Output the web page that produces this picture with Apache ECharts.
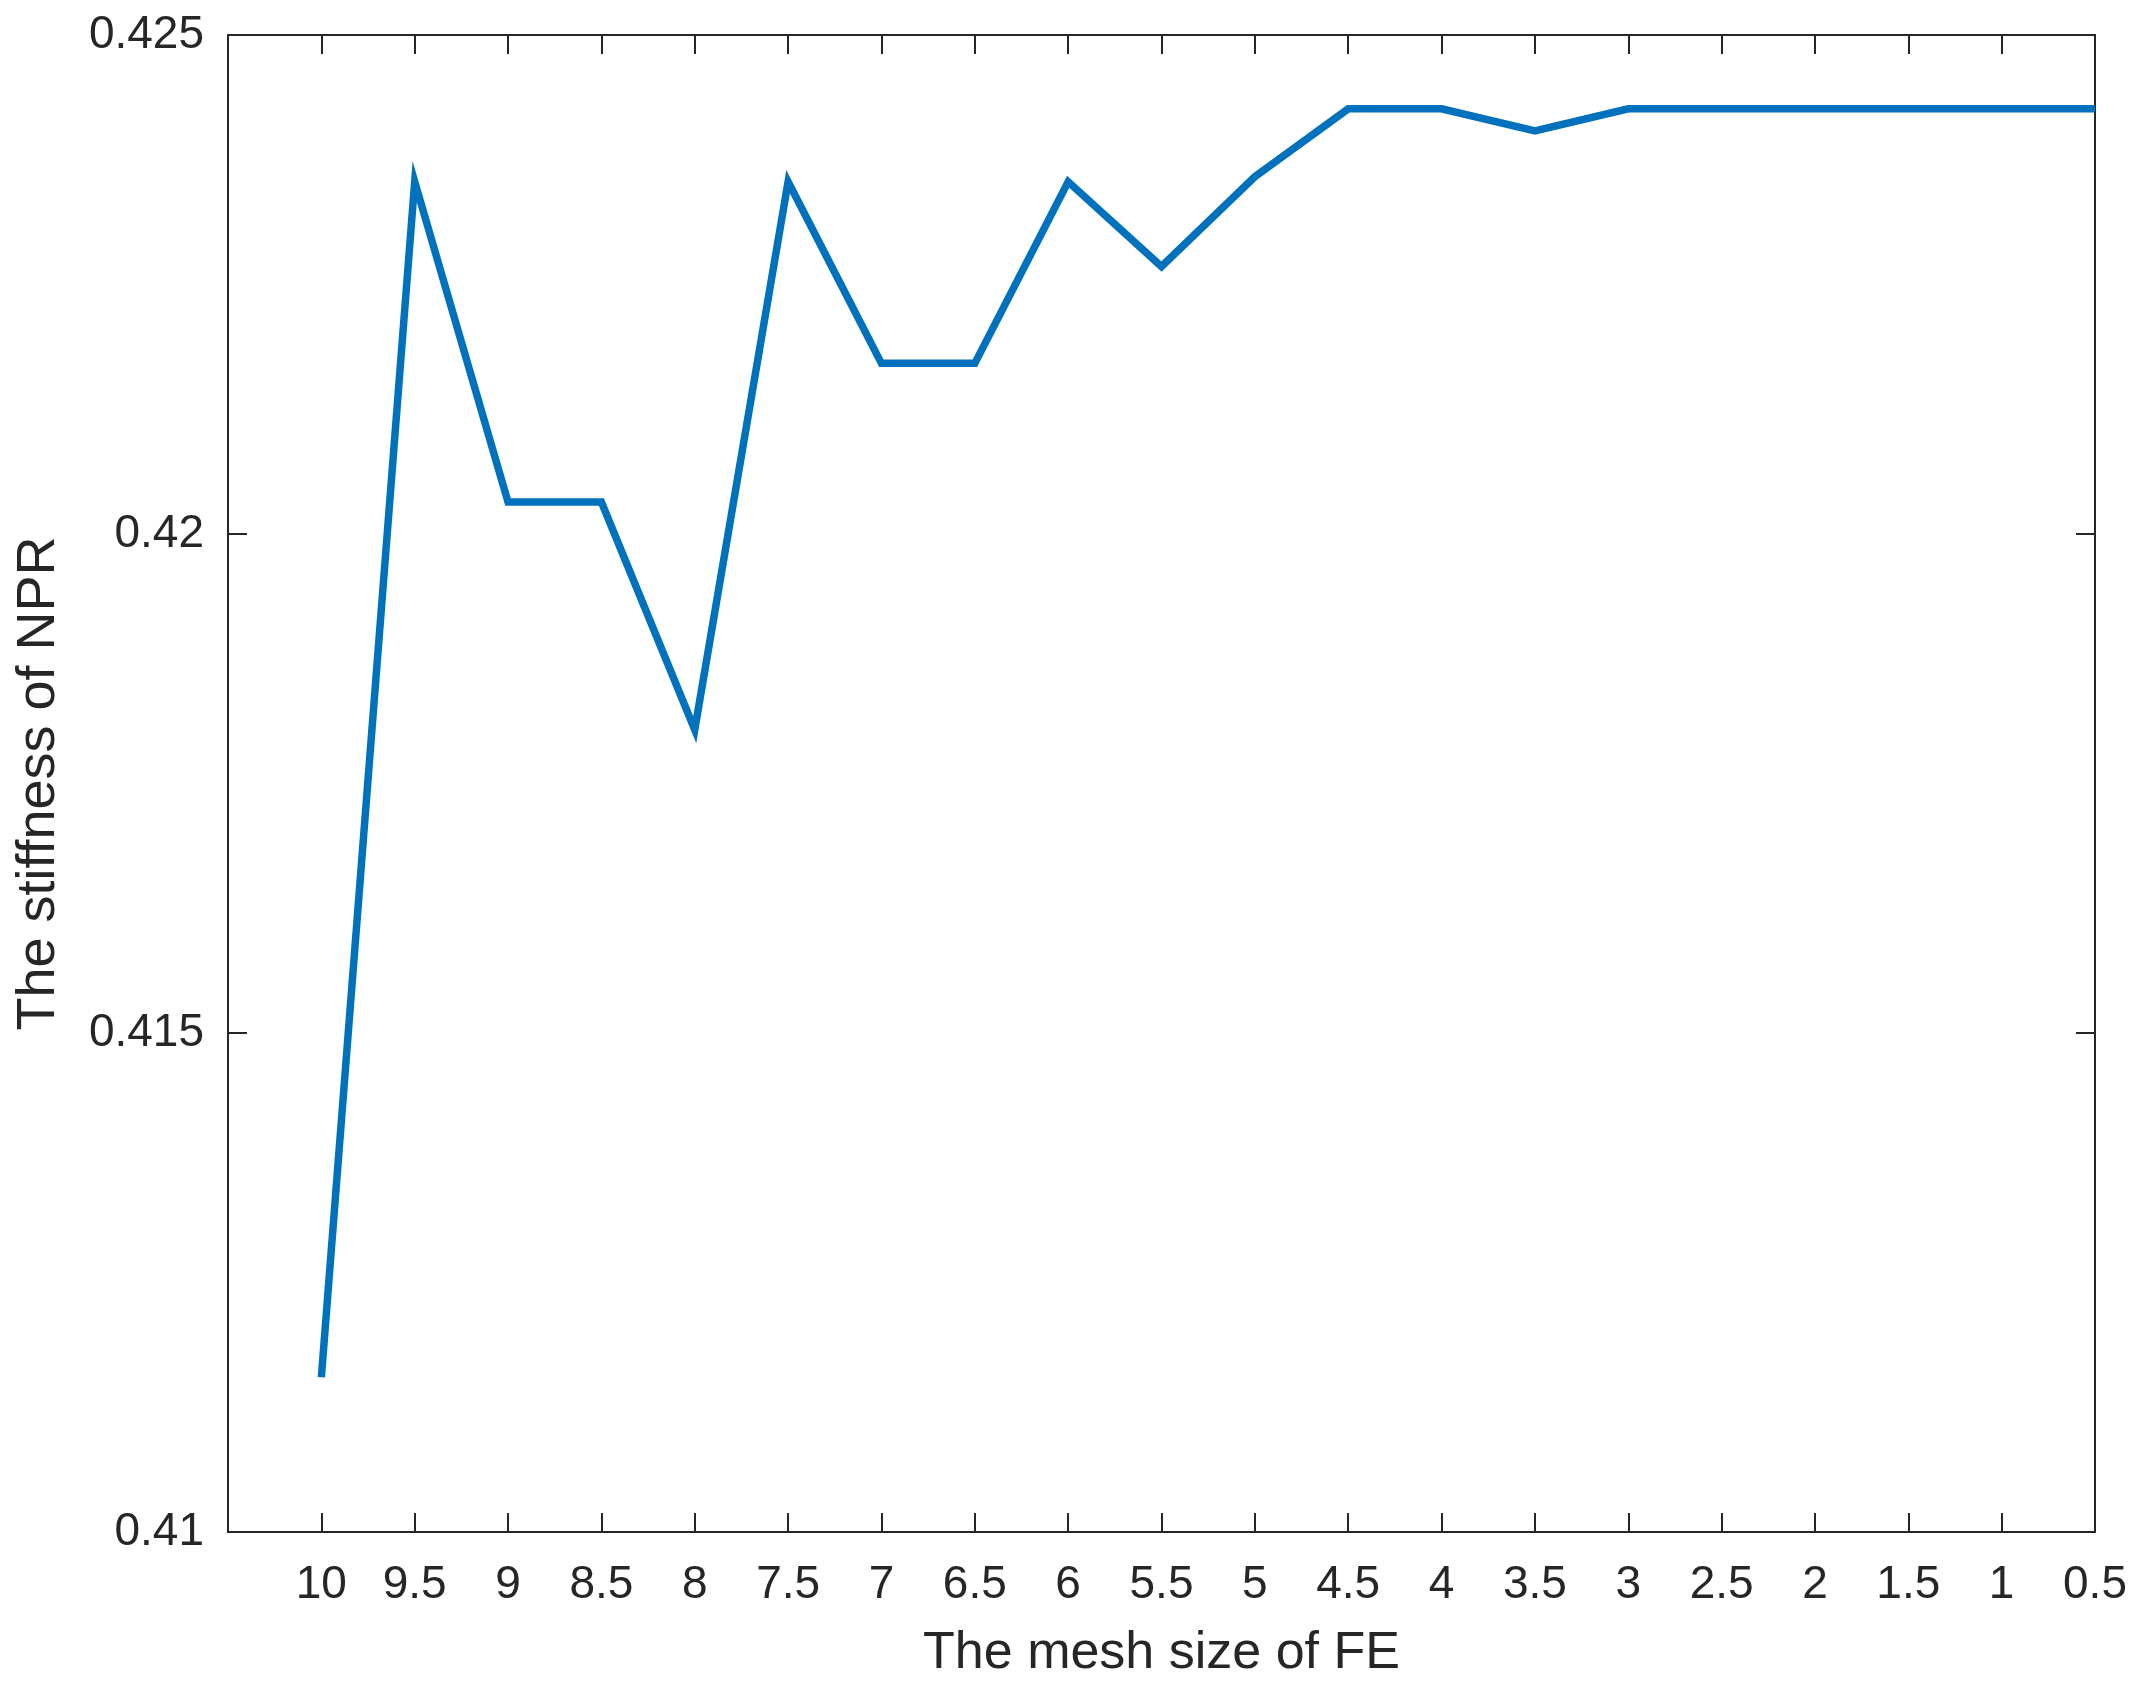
<!DOCTYPE html>
<html>
<head>
<meta charset="utf-8">
<title>Stiffness of NPR vs mesh size</title>
<script src="https://cdn.jsdelivr.net/npm/echarts@6/dist/echarts.min.js"></script>
<style>
  html, body { margin: 0; padding: 0; background: #fff; }
  #chart { width: 2149px; height: 1685px; }
</style>
</head>
<body>
<div id="chart"></div>
<script>
  // mesh size of FE (x) and stiffness of NPR (y)
  var meshSize = [10, 9.5, 9, 8.5, 8, 7.5, 7, 6.5, 6, 5.5, 5, 4.5, 4, 3.5, 3, 2.5, 2, 1.5, 1, 0.5]
  var stiffness = [0.41155, 0.42353, 0.42032, 0.42032, 0.41804, 0.42353, 0.42171, 0.42171, 0.42353, 0.42268,
                   0.42358, 0.42426, 0.42426, 0.42404, 0.42426, 0.42426, 0.42426, 0.42426, 0.42426, 0.42426]
  var yTicks = [0.41, 0.415, 0.42, 0.425]

  var axisColor = '#262626'
  var font = '"Liberation Sans", Arial, Helvetica, sans-serif'

  var chart = echarts.init(document.getElementById('chart'))

  var xCommon = {
    type: 'value',
    inverse: true,
    min: 0.5,
    max: 10.5,
    interval: 0.5,
    axisLine: { show: true, onZero: false, lineStyle: { color: axisColor, width: 2 } },
    axisTick: { show: true, inside: true, length: 19, lineStyle: { color: axisColor, width: 2 } },
    splitLine: { show: false }
  }
  var yCommon = {
    type: 'value',
    min: yTicks[0],
    max: yTicks[yTicks.length - 1],
    interval: 0.005,
    axisLine: { show: true, onZero: false, lineStyle: { color: axisColor, width: 2 } },
    axisTick: { show: true, inside: true, length: 19, lineStyle: { color: axisColor, width: 2 } },
    splitLine: { show: false }
  }

  chart.setOption({
    animation: false,
    backgroundColor: '#fff',
    grid: { left: 228, right: 54, top: 35, bottom: 153, containLabel: false },
    xAxis: [
      Object.assign({}, xCommon, {
        position: 'bottom',
        name: 'The mesh size of FE',
        nameLocation: 'middle',
        nameGap: 96,
        nameTextStyle: { fontFamily: font, fontSize: 52, color: axisColor },
        axisLabel: {
          show: true,
          margin: 30,
          fontFamily: font,
          fontSize: 46,
          color: axisColor,
          showMinLabel: true,
          showMaxLabel: true,
          hideOverlap: false,
          formatter: function (v) { return v === 10.5 ? '' : String(v) }
        }
      }),
      Object.assign({}, xCommon, {
        position: 'top',
        axisLabel: { show: false }
      })
    ],
    yAxis: [
      Object.assign({}, yCommon, {
        position: 'left',
        name: 'The stiffness of NPR',
        nameLocation: 'middle',
        nameGap: 162,
        nameTextStyle: { fontFamily: font, fontSize: 54, color: axisColor },
        axisLabel: {
          show: true,
          margin: 24,
          fontFamily: font,
          fontSize: 46,
          color: axisColor,
          showMinLabel: true,
          showMaxLabel: true,
          formatter: function (v) { return String(+v.toFixed(3)) }
        }
      }),
      Object.assign({}, yCommon, {
        position: 'right',
        axisLabel: { show: false }
      })
    ],
    series: [{
      type: 'line',
      xAxisIndex: 0,
      yAxisIndex: 0,
      data: meshSize.map(function (x, i) { return [x, stiffness[i]] }),
      showSymbol: false,
      symbol: 'none',
      lineStyle: { color: '#0072BD', width: 7.5, join: 'miter' },
      emphasis: { disabled: true }
    }]
  })
</script>
</body>
</html>
